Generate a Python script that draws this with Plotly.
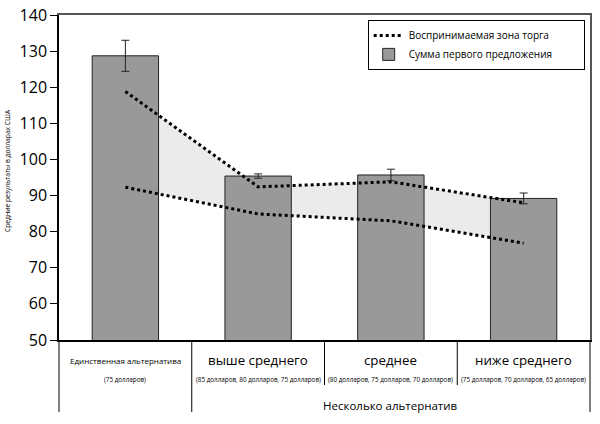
import plotly.graph_objects as go

# ---- data ----
categories = ["Единственная альтернатива", "выше среднего", "среднее", "ниже среднего"]
sub_labels = ["(75 долларов)",
              "(85 долларов, 80 долларов, 75 долларов)",
              "(80 долларов, 75 долларов, 70 долларов)",
              "(75 долларов, 70 долларов, 65 долларов)"]
group_label = "Несколько альтернатив"
first_offer = [128.7, 95.4, 95.7, 89.2]
first_offer_err = [4.3, 0.6, 1.6, 1.5]
zone_upper = [118.8, 92.4, 93.8, 88.0]
zone_lower = [92.3, 84.9, 83.0, 76.8]
y_ticks = [50, 60, 70, 80, 90, 100, 110, 120, 130, 140]
series_names = ["Воспринимаемая зона торга", "Сумма первого предложения"]
y_title = "Средние результаты в долларах США"

xs = list(range(len(categories)))
FONT = "Open Sans"
PAD = "\u00a0" * 10

fig = go.Figure()

# fill between zone lines (base subplot, below bars)
fig.add_trace(go.Scatter(x=xs, y=zone_lower, mode="lines", line=dict(width=0),
                         showlegend=False, hoverinfo="skip", xaxis="x", yaxis="y"))
fig.add_trace(go.Scatter(x=xs, y=zone_upper, mode="lines", line=dict(width=0),
                         fill="tonexty", fillcolor="#ebebeb",
                         showlegend=False, hoverinfo="skip", xaxis="x", yaxis="y"))

dotline = dict(color="black", width=3, dash="3px,3px")

# bars (overlay subplot)
fig.add_trace(go.Bar(x=xs, y=first_offer, width=0.5, name=series_names[1] + PAD,
                     marker=dict(color="#999999", line=dict(color="#222222", width=1)),
                     error_y=dict(type="data", array=first_offer_err, color="#222222",
                                  thickness=1, width=4),
                     legendrank=2, xaxis="x2", yaxis="y2"))

# zone lines
fig.add_trace(go.Scatter(x=xs, y=zone_upper, mode="lines", line=dotline,
                         name=series_names[0], legendrank=1, xaxis="x2", yaxis="y2"))
fig.add_trace(go.Scatter(x=xs, y=zone_lower, mode="lines", line=dotline,
                         showlegend=False, xaxis="x2", yaxis="y2"))

xr = [-0.5, len(categories) - 0.5]
yr = [y_ticks[0], y_ticks[-1]]
axis_common = dict(showline=True, linecolor="black", linewidth=1.5,
                   showgrid=False, zeroline=False, automargin=False)
frame = dict(showline=True, linecolor="#555555", linewidth=1.5, showgrid=False,
             zeroline=False, showticklabels=False, ticks="", automargin=False)

fig.update_layout(
    width=600, height=424,
    margin=dict(l=59, r=10, t=15, b=84, autoexpand=False),
    paper_bgcolor="white", plot_bgcolor="white",
    font=dict(family=FONT, color="black"),
    barmode="overlay",
    xaxis=dict(range=xr, showticklabels=False, ticks="", **axis_common),
    yaxis=dict(range=yr, tickvals=y_ticks, ticks="outside", ticklen=7,
               tickcolor="black", tickfont=dict(size=16, family=FONT), **axis_common),
    xaxis2=dict(range=xr, overlaying="x", side="top", **frame),
    yaxis2=dict(range=yr, overlaying="y", side="right", **frame),
    legend=dict(x=0.99, y=0.985, xanchor="right", yanchor="top",
                bordercolor="black", borderwidth=1, bgcolor="white",
                font=dict(size=10, family=FONT), itemwidth=30,
                traceorder="normal", tracegroupgap=2),
    showlegend=True,
)

# y-axis title
fig.add_annotation(text=y_title, xref="paper", yref="paper", x=-0.098, y=0.523,
                   textangle=-90, showarrow=False, font=dict(size=6.7, family=FONT),
                   xanchor="center", yanchor="middle")

# category labels
n = len(categories)
for i, (c, s) in enumerate(zip(categories, sub_labels)):
    size = 8 if i == 0 else 13.3
    fig.add_annotation(text=c, xref="x", yref="paper", x=xs[i], y=0, yshift=-20,
                       showarrow=False, font=dict(size=size, family=FONT),
                       xanchor="center", yanchor="middle")
    fig.add_annotation(text=s, xref="x", yref="paper", x=xs[i], y=0, yshift=-39,
                       showarrow=False, font=dict(size=6.3, family=FONT),
                       xanchor="center", yanchor="middle")

fig.add_annotation(text=group_label, xref="x", yref="paper", x=(xs[1] + xs[-1]) / 2,
                   y=0, yshift=-65, showarrow=False, font=dict(size=11.5, family=FONT),
                   xanchor="center", yanchor="middle")

# table separator lines below axis
long_bottom = -72 / 325
short_bottom = -45 / 325
for k in range(n + 1):
    bottom = long_bottom if k in (0, 1, n) else short_bottom
    fig.add_shape(type="line", xref="paper", yref="paper", x0=k / n, x1=k / n,
                  y0=0, y1=bottom, line=dict(color="black", width=1))

fig.write_html("out.html", config={"displayModeBar": False},
               post_script="document.body.style.margin='0';document.body.style.overflow='hidden';")
